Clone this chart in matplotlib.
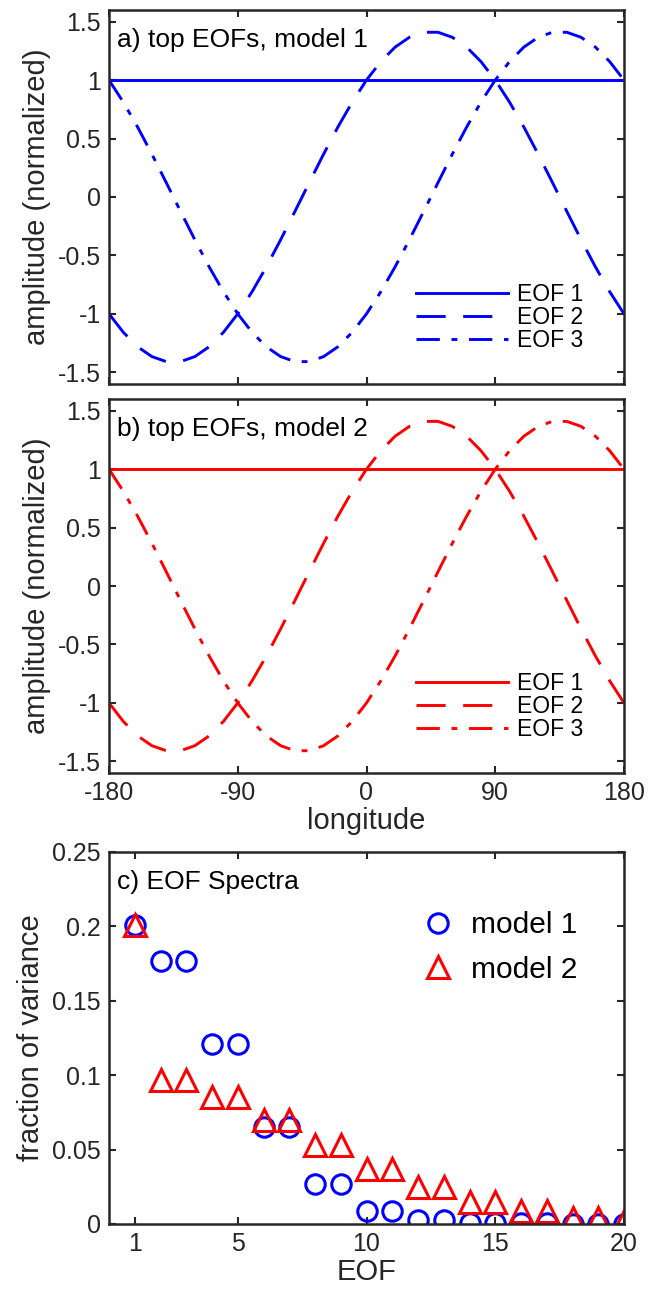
import numpy as np
import matplotlib
matplotlib.use("Agg")
import matplotlib.pyplot as plt
from matplotlib.ticker import FormatStrFormatter

plt.rcParams['font.family'] = ['Liberation Sans', 'DejaVu Sans']
plt.rcParams['axes.unicode_minus'] = False

# longitude grid (degrees) and the three leading EOFs
lon = list(range(-180, 181, 10))
eof1 = [1.0] * len(lon)
eof2 = [-1.0, -1.158, -1.282, -1.366, -1.409, -1.409, -1.366, -1.282, -1.158, -1.0,
        -0.811, -0.598, -0.366, -0.123, 0.123, 0.366, 0.598, 0.811, 1.0,
        1.158, 1.282, 1.366, 1.409, 1.409, 1.366, 1.282, 1.158, 1.0,
        0.811, 0.598, 0.366, 0.123, -0.123, -0.366, -0.598, -0.811, -1.0]
eof3 = [1.0, 0.811, 0.598, 0.366, 0.123, -0.123, -0.366, -0.598, -0.811, -1.0,
        -1.158, -1.282, -1.366, -1.409, -1.409, -1.366, -1.282, -1.158, -1.0,
        -0.811, -0.598, -0.366, -0.123, 0.123, 0.366, 0.598, 0.811, 1.0,
        1.158, 1.282, 1.366, 1.409, 1.409, 1.366, 1.282, 1.158, 1.0]

# EOF spectra
eof_num = list(range(1, 21))
var_model1 = [0.201, 0.177, 0.177, 0.121, 0.121, 0.065, 0.065, 0.027, 0.027, 0.009,
              0.009, 0.003, 0.003, 0.001, 0.001, 0.0005, 0.0004, 0.0002, 0.0001, 0.0]
var_model2 = [0.201, 0.097, 0.097, 0.085, 0.085, 0.070, 0.070, 0.053, 0.053, 0.037,
              0.037, 0.025, 0.025, 0.015, 0.015, 0.009, 0.009, 0.004, 0.004, 0.002]

axcol = '#262626'
lw = 2.1
dash = (10, 6)
dashdot = (8, 4, 2, 4)
tick_fs = 18
label_fs = 21


def style_axes(ax):
    for s in ax.spines.values():
        s.set_color(axcol)
        s.set_linewidth(1.8)
    ax.tick_params(direction='in', length=5, width=1.5, colors=axcol,
                   top=True, right=True, labelsize=tick_fs, labelcolor=axcol, pad=6)


fig = plt.figure(figsize=(6.49, 12.91), dpi=100)
left, width = 109 / 649, 515 / 649
ax_a = fig.add_axes([left, 0.7026, width, 0.2897])
ax_b = fig.add_axes([left, 0.4012, width, 0.2897])
ax_c = fig.add_axes([left, 0.0519, width, 0.2882])

for ax, col, tag in [(ax_a, 'blue', 'a) top EOFs, model 1'),
                     (ax_b, 'red', 'b) top EOFs, model 2')]:
    ax.plot(lon, eof1, color=col, lw=lw, label='EOF 1')
    ax.plot(lon, eof2, color=col, lw=lw, dashes=dash, label='EOF 2')
    ax.plot(lon, eof3, color=col, lw=lw, dashes=dashdot, label='EOF 3')
    ax.set_xlim(-180, 180)
    ax.set_ylim(-1.6, 1.6)
    ax.set_xticks([-180, -90, 0, 90, 180])
    ax.set_yticks([-1.5, -1, -0.5, 0, 0.5, 1, 1.5])
    ax.yaxis.set_major_formatter(FormatStrFormatter('%g'))
    ax.set_ylabel('amplitude (normalized)', fontsize=label_fs, color=axcol, labelpad=5)
    ax.text(0.015, 0.92, tag, transform=ax.transAxes, fontsize=19, va='center')
    style_axes(ax)
    ax.legend(loc='lower left', bbox_to_anchor=(0.596, 0.085), frameon=False,
              fontsize=16.5, handlelength=4.0, handletextpad=0.4, labelspacing=0.0,
              borderpad=0, borderaxespad=0)

ax_a.tick_params(labelbottom=False)
ax_b.set_xlabel('longitude', fontsize=label_fs, color=axcol, labelpad=1)

ax_c.plot(eof_num, var_model1, 'o', ms=14, mfc='none', mec='blue', mew=2.2, label='model 1')
ax_c.plot(eof_num, var_model2, '^', ms=16, mfc='none', mec='red', mew=2.2, label='model 2')
ax_c.set_xlim(0, 20)
ax_c.set_ylim(0, 0.25)
ax_c.set_xticks([1, 5, 10, 15, 20])
ax_c.set_yticks([0, 0.05, 0.1, 0.15, 0.2, 0.25])
ax_c.yaxis.set_major_formatter(FormatStrFormatter('%g'))
ax_c.set_xlabel('EOF', fontsize=label_fs, color=axcol, labelpad=1)
ax_c.set_ylabel('fraction of variance', fontsize=label_fs, color=axcol, labelpad=5)
ax_c.text(0.015, 0.919, 'c) EOF Spectra', transform=ax_c.transAxes, fontsize=19, va='center')
style_axes(ax_c)
ax_c.legend(loc='upper left', bbox_to_anchor=(0.61, 0.84), frameon=False,
            fontsize=21.5, handlelength=1.0, handletextpad=0.6, labelspacing=0.55,
            borderpad=0, borderaxespad=0)

fig.savefig('out.png', dpi=100)
